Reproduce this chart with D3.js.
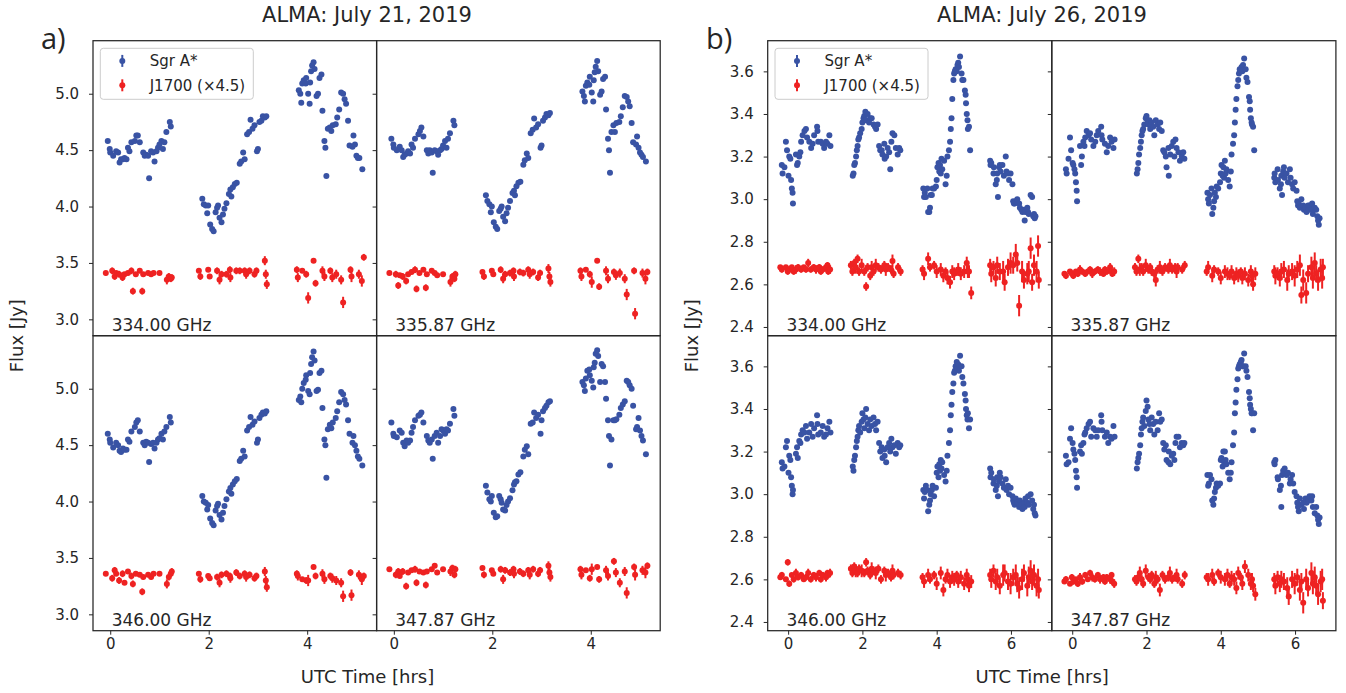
<!DOCTYPE html>
<html>
<head>
<meta charset="utf-8">
<script src="https://cdn.jsdelivr.net/npm/d3@7"></script>
<style>
  body { margin: 0; background: #fff; }
  svg text { font-family: "DejaVu Sans", sans-serif; fill: #262626; }
</style>
</head>
<body>
<svg id="chart" width="1346" height="693"></svg>
<script>
// ---------- July 21, 2019 ----------
const t21Sgr = [
  -0.05,-0.01,0.00,0.06,0.12,0.16,0.19,0.22,0.26,0.29,0.33,0.36,0.39,0.43,0.50,0.53,0.56,0.60,0.67,0.70,0.73,0.77,0.79,0.83,0.87,0.90,0.94,0.97,1.00,1.04,1.07,1.10,1.14,1.21,1.23,
  1.87,1.90,1.94,1.97,1.99,2.03,2.07,2.10,2.14,2.17,2.19,2.22,2.26,2.29,2.32,2.36,2.41,2.44,2.46,2.49,2.53,2.57,2.63,2.66,2.70,2.73,2.78,2.82,2.85,2.89,2.93,2.98,3.00,3.03,3.07,3.10,3.14,3.17,
  3.83,3.86,3.88,3.90,3.93,3.97,3.98,4.02,4.05,4.06,4.08,4.10,4.13,4.15,4.19,4.22,4.25,4.29,4.31,4.35,4.37,4.39,4.42,4.46,4.49,4.52,4.58,4.61,4.65,4.69,4.73,4.76,4.79,4.83,4.86,4.92,4.94,4.97,5.00,5.03,5.06,5.12
];
const sgr21_334 = [
  4.58,4.51,4.48,4.45,4.49,4.48,4.39,4.42,4.42,4.43,4.42,4.52,4.49,4.57,4.58,4.63,4.63,4.57,4.48,4.45,4.46,4.45,4.25,4.49,4.48,4.40,4.49,4.52,4.55,4.58,4.51,4.57,4.66,4.75,4.71,
  4.07,4.02,4.01,3.94,4.01,3.84,3.80,3.78,3.95,3.99,4.01,3.90,3.86,3.93,3.98,4.03,4.11,4.15,4.09,4.17,4.20,4.21,4.38,4.40,4.48,4.42,4.64,4.66,4.77,4.69,4.72,4.49,4.51,4.75,4.76,4.80,4.79,4.80,
  5.03,5.00,4.92,5.09,5.12,5.09,5.14,5.00,4.91,5.10,5.20,5.25,5.28,5.22,4.98,5.00,5.14,5.17,4.85,4.58,4.52,4.27,4.69,4.70,4.67,4.72,4.73,4.79,4.86,5.01,5.00,4.95,4.91,4.76,4.54,4.53,4.63,4.55,4.45,4.43,4.43,4.33
];
const sgr21_335 = [
  4.60,4.55,4.52,4.50,4.53,4.50,4.44,4.46,4.47,4.49,4.47,4.55,4.52,4.60,4.64,4.67,4.70,4.62,4.50,4.47,4.50,4.48,4.30,4.50,4.49,4.46,4.50,4.51,4.54,4.58,4.52,4.60,4.65,4.76,4.72,
  4.10,4.05,4.02,3.95,4.00,3.86,3.82,3.80,3.96,3.98,4.00,3.91,3.87,3.94,3.99,4.05,4.12,4.14,4.10,4.18,4.21,4.22,4.37,4.41,4.47,4.43,4.65,4.68,4.78,4.70,4.73,4.52,4.54,4.76,4.79,4.82,4.81,4.83,
  5.02,4.98,4.93,5.07,5.10,5.08,5.15,5.01,4.93,5.12,5.19,5.24,5.29,5.20,4.99,5.02,5.13,5.15,4.86,4.60,4.50,4.30,4.66,4.72,4.66,4.74,4.75,4.80,4.88,4.98,4.97,4.93,4.89,4.74,4.57,4.55,4.62,4.52,4.48,4.46,4.44,4.40
];
const sgr21_346 = [
  4.60,4.55,4.52,4.48,4.52,4.50,4.45,4.44,4.47,4.46,4.46,4.55,4.53,4.62,4.66,4.70,4.72,4.62,4.52,4.50,4.53,4.52,4.35,4.51,4.52,4.47,4.52,4.55,4.56,4.60,4.55,4.62,4.66,4.75,4.70,
  4.05,4.00,3.99,3.93,3.97,3.85,3.81,3.79,3.92,3.96,3.98,3.88,3.84,3.90,3.96,4.02,4.09,4.12,4.07,4.15,4.18,4.20,4.36,4.38,4.45,4.40,4.63,4.66,4.75,4.68,4.71,4.52,4.55,4.74,4.77,4.79,4.78,4.80,
  4.90,4.93,4.88,5.00,5.05,5.08,5.12,4.98,4.95,5.14,5.22,5.28,5.33,5.25,4.98,4.99,5.14,5.16,4.83,4.55,4.50,4.21,4.64,4.68,4.65,4.70,4.74,4.80,4.88,4.97,4.95,4.90,4.86,4.72,4.60,4.52,4.58,4.50,4.45,4.40,4.38,4.32
];
const sgr21_347 = [
  4.70,4.60,4.58,4.57,4.63,4.61,4.52,4.49,4.54,4.52,4.54,4.61,4.66,4.72,4.76,4.77,4.79,4.70,4.58,4.54,4.52,4.55,4.38,4.58,4.61,4.52,4.58,4.64,4.63,4.60,4.64,4.63,4.69,4.82,4.76,
  4.14,4.08,4.02,4.00,4.05,3.90,3.86,3.87,4.05,4.02,3.99,3.93,3.92,3.97,4.00,4.03,4.10,4.15,4.17,4.18,4.24,4.26,4.40,4.46,4.49,4.42,4.69,4.70,4.79,4.74,4.77,4.60,4.72,4.80,4.83,4.85,4.88,4.89,
  5.06,5.03,4.98,5.09,5.16,5.17,5.12,5.07,5.01,5.19,5.23,5.31,5.34,5.29,5.06,5.22,5.20,5.06,4.91,4.72,4.58,4.32,4.55,4.72,4.72,4.73,4.77,4.83,4.86,4.89,5.07,5.06,5.03,5.00,4.85,4.64,4.66,4.74,4.63,4.58,4.54,4.42
];
const t21J = [
  -0.09,0.04,0.09,0.12,0.18,0.25,0.29,0.36,0.43,0.46,0.52,0.60,0.65,0.67,0.77,0.83,0.88,1.00,1.15,1.19,1.23,1.25,
  1.80,1.83,1.99,2.02,2.17,2.22,2.26,2.36,2.43,2.44,2.56,2.63,2.73,2.76,2.83,2.93,2.97,3.14,3.16,3.18,
  3.79,3.81,3.90,3.98,4.02,4.13,4.17,4.31,4.35,4.47,4.51,4.59,4.69,4.73,4.88,4.90,5.05,5.11,5.15
];
const j21_334 = [
  3.41,3.43,3.38,3.41,3.40,3.37,3.40,3.41,3.43,3.25,3.40,3.43,3.25,3.40,3.41,3.40,3.41,3.41,3.35,3.38,3.36,3.37,
  3.43,3.38,3.44,3.38,3.43,3.35,3.40,3.40,3.44,3.37,3.43,3.43,3.43,3.40,3.43,3.40,3.43,3.52,3.40,3.31,
  3.44,3.37,3.43,3.40,3.19,3.52,3.32,3.43,3.38,3.43,3.37,3.40,3.35,3.15,3.44,3.38,3.40,3.34,3.55
];
const j21_335 = [
  3.41,3.40,3.30,3.39,3.38,3.34,3.40,3.42,3.44,3.27,3.41,3.44,3.28,3.40,3.43,3.41,3.39,3.40,3.33,3.38,3.36,3.40,
  3.42,3.38,3.43,3.40,3.44,3.36,3.40,3.41,3.43,3.38,3.42,3.41,3.44,3.40,3.42,3.37,3.41,3.45,3.38,3.33,
  3.43,3.38,3.44,3.40,3.33,3.52,3.29,3.43,3.36,3.42,3.39,3.41,3.36,3.22,3.43,3.05,3.41,3.36,3.42
];
const j21_346 = [
  3.36,3.32,3.39,3.36,3.30,3.36,3.28,3.38,3.34,3.27,3.36,3.35,3.20,3.33,3.35,3.33,3.36,3.36,3.27,3.33,3.36,3.38,
  3.36,3.31,3.34,3.32,3.33,3.28,3.35,3.36,3.34,3.32,3.37,3.34,3.36,3.33,3.35,3.32,3.34,3.38,3.30,3.24,
  3.36,3.34,3.31,3.30,3.30,3.42,3.34,3.36,3.31,3.34,3.32,3.30,3.28,3.16,3.37,3.17,3.35,3.31,3.34
];
const j21_347 = [
  3.40,3.35,3.38,3.34,3.38,3.25,3.37,3.39,3.40,3.28,3.38,3.37,3.26,3.38,3.40,3.43,3.37,3.40,3.38,3.41,3.35,3.40,
  3.41,3.35,3.39,3.36,3.40,3.31,3.39,3.37,3.40,3.36,3.38,3.36,3.39,3.35,3.40,3.36,3.39,3.43,3.37,3.33,
  3.40,3.35,3.39,3.32,3.40,3.42,3.31,3.39,3.34,3.47,3.37,3.28,3.38,3.19,3.42,3.35,3.39,3.37,3.43
];
const err21J = [
  0.02,0.03,0.03,0.02,0.03,0.03,0.02,0.02,0.03,0.03,0.02,0.02,0.03,0.02,0.02,0.02,0.02,0.02,0.04,0.03,0.03,0.03,
  0.02,0.03,0.02,0.02,0.03,0.04,0.03,0.03,0.03,0.04,0.03,0.03,0.03,0.04,0.03,0.03,0.03,0.04,0.04,0.04,
  0.03,0.04,0.02,0.03,0.05,0.02,0.03,0.04,0.04,0.03,0.04,0.04,0.04,0.05,0.03,0.05,0.04,0.05,0.03
];

// ---------- July 26, 2019 ----------
const t26Sgr = [
  -0.17,-0.15,-0.10,-0.06,-0.03,0.01,0.03,0.06,0.08,0.10,0.12,0.13,0.21,0.24,0.26,0.30,0.33,0.35,0.39,0.44,0.48,0.51,0.57,0.62,0.66,0.70,0.78,0.79,0.81,0.88,0.93,0.97,1.02,1.06,1.11,1.14,
  1.74,1.76,1.78,1.80,1.83,1.85,1.87,1.89,1.91,1.94,1.98,2.00,2.03,2.05,2.08,2.10,2.14,2.18,2.21,2.25,2.30,2.34,2.37,2.41,2.45,2.48,2.52,2.54,2.59,2.60,2.64,2.68,2.72,2.75,2.78,2.81,2.86,2.90,2.95,2.99,3.02,
  3.64,3.66,3.68,3.71,3.75,3.77,3.80,3.82,3.84,3.87,3.89,3.93,3.98,4.00,4.02,4.05,4.07,4.09,4.11,4.13,4.15,4.20,4.24,4.27,4.29,4.33,4.36,4.38,4.40,4.42,4.45,4.47,4.49,4.51,4.54,4.56,4.58,4.60,4.63,4.67,4.69,4.72,4.76,4.78,4.79,4.81,4.83,4.84,4.87,4.90,
  5.44,5.45,5.47,5.53,5.54,5.59,5.62,5.63,5.65,5.68,5.70,5.72,5.77,5.81,5.86,5.88,5.92,5.95,5.99,6.04,6.06,6.08,6.10,6.13,6.17,6.22,6.24,6.28,6.31,6.35,6.37,6.39,6.44,6.46,6.48,6.53,6.57,6.60,6.62,6.64,6.66
];
const sgr26_334 = [
  3.16,3.12,3.15,3.27,3.23,3.11,3.20,3.19,3.09,3.05,3.03,2.98,3.21,3.16,3.17,3.20,3.22,3.27,3.30,3.32,3.33,3.29,3.27,3.24,3.26,3.30,3.34,3.32,3.27,3.27,3.26,3.24,3.27,3.26,3.30,3.25,
  3.11,3.12,3.16,3.17,3.20,3.23,3.25,3.28,3.29,3.31,3.33,3.36,3.38,3.39,3.41,3.37,3.40,3.36,3.38,3.38,3.35,3.34,3.33,3.35,3.25,3.23,3.23,3.21,3.26,3.19,3.20,3.24,3.22,3.14,3.27,3.31,3.30,3.24,3.21,3.24,3.23,
  3.05,3.01,3.03,3.01,3.05,2.94,2.94,2.96,3.02,3.02,3.05,3.05,3.06,3.09,3.15,3.17,3.13,3.16,3.12,3.19,3.14,3.18,3.07,3.11,3.20,3.23,3.27,3.33,3.38,3.47,3.56,3.59,3.60,3.61,3.60,3.63,3.64,3.62,3.67,3.59,3.56,3.56,3.51,3.49,3.45,3.40,3.37,3.33,3.34,3.23,
  3.18,3.16,3.17,3.12,3.15,3.07,3.09,3.12,3.01,3.15,3.16,3.13,3.16,3.11,3.20,3.13,3.12,3.09,3.12,3.07,2.99,2.98,2.98,2.99,3.00,2.98,2.96,2.95,2.94,2.95,2.90,2.94,2.96,2.94,2.93,3.02,3.01,2.92,2.93,2.91,2.92
];
const sgr26_335 = [
  3.14,3.12,3.19,3.29,3.23,3.17,3.16,3.14,3.12,3.08,3.04,2.99,3.25,3.16,3.20,3.27,3.25,3.29,3.32,3.30,3.31,3.28,3.25,3.27,3.30,3.32,3.34,3.30,3.28,3.26,3.22,3.25,3.29,3.27,3.24,3.28,
  3.12,3.14,3.17,3.21,3.24,3.27,3.30,3.32,3.33,3.35,3.38,3.39,3.36,3.35,3.37,3.33,3.36,3.34,3.30,3.37,3.35,3.33,3.36,3.32,3.23,3.22,3.20,3.15,3.24,3.11,3.21,3.25,3.27,3.20,3.28,3.24,3.22,3.18,3.20,3.22,3.19,
  3.03,3.00,2.98,3.02,3.05,2.93,2.96,2.99,3.03,3.01,3.06,3.05,3.08,3.12,3.16,3.11,3.15,3.10,3.18,3.12,3.14,3.09,3.06,3.13,3.21,3.26,3.30,3.36,3.42,3.47,3.53,3.56,3.59,3.61,3.60,3.62,3.60,3.63,3.66,3.61,3.57,3.55,3.48,3.46,3.42,3.38,3.36,3.35,3.34,3.23,
  3.10,3.12,3.08,3.14,3.09,3.05,3.07,3.11,3.02,3.13,3.15,3.10,3.12,3.08,3.14,3.10,3.07,3.05,3.08,3.04,2.99,2.97,2.98,2.96,3.00,2.97,2.95,2.96,2.94,2.97,2.95,2.97,2.95,2.98,2.93,2.96,2.95,2.92,2.90,2.88,2.91
];
const sgr26_346 = [
  3.15,3.12,3.13,3.22,3.25,3.10,3.18,3.16,3.08,3.04,3.00,3.02,3.19,3.22,3.17,3.25,3.24,3.28,3.30,3.29,3.32,3.26,3.29,3.33,3.27,3.31,3.37,3.33,3.28,3.29,3.32,3.27,3.28,3.31,3.34,3.29,
  3.13,3.11,3.16,3.18,3.22,3.25,3.27,3.30,3.32,3.29,3.34,3.38,3.35,3.31,3.36,3.40,3.33,3.30,3.35,3.32,3.36,3.33,3.30,3.34,3.24,3.20,3.22,3.17,3.21,3.18,3.15,3.22,3.24,3.20,3.26,3.22,3.23,3.19,3.24,3.22,3.23,
  3.02,2.98,3.01,3.04,3.02,2.92,2.95,2.97,3.00,3.02,3.04,2.99,3.03,3.10,3.13,3.08,3.14,3.11,3.16,3.12,3.15,3.09,3.06,3.11,3.18,3.24,3.30,3.37,3.42,3.48,3.52,3.57,3.58,3.60,3.62,3.59,3.61,3.58,3.65,3.60,3.55,3.52,3.47,3.44,3.40,3.37,3.35,3.38,3.31,3.35,
  3.12,3.08,3.10,3.05,3.07,3.02,3.04,3.08,2.99,3.06,3.10,3.08,3.05,3.03,3.07,3.02,3.04,3.00,3.03,2.99,2.97,2.96,2.95,2.98,2.96,2.94,2.97,2.95,2.93,2.96,2.94,2.98,2.96,2.99,2.95,3.00,2.97,2.93,2.95,2.91,2.90
];
const sgr26_347 = [
  3.18,3.14,3.15,3.26,3.31,3.24,3.21,3.19,3.16,3.11,3.08,3.03,3.20,3.23,3.19,3.24,3.28,3.29,3.31,3.33,3.34,3.27,3.31,3.30,3.27,3.30,3.37,3.34,3.30,3.27,3.29,3.24,3.27,3.26,3.32,3.27,
  3.12,3.15,3.17,3.19,3.23,3.28,3.31,3.34,3.36,3.32,3.39,3.44,3.41,3.35,3.33,3.30,3.36,3.33,3.28,3.34,3.30,3.38,3.34,3.35,3.24,3.21,3.23,3.16,3.15,3.20,3.14,3.18,3.19,3.16,3.24,3.27,3.27,3.22,3.24,3.23,3.24,
  3.09,3.04,3.05,3.09,3.07,2.97,2.95,2.98,3.01,3.03,3.05,3.04,3.05,3.16,3.17,3.13,3.20,3.15,3.20,3.16,3.14,3.10,3.07,3.10,3.15,3.23,3.29,3.38,3.43,3.49,3.54,3.59,3.60,3.61,3.62,3.63,3.60,3.60,3.66,3.60,3.58,3.55,3.48,3.45,3.42,3.40,3.38,3.38,3.30,3.38,
  3.15,3.14,3.16,3.08,3.07,3.02,3.04,2.94,3.09,3.11,3.10,3.12,3.09,3.10,3.05,3.07,3.09,3.05,3.01,2.99,2.96,2.94,2.92,2.98,2.95,2.96,2.93,2.98,2.96,2.98,2.97,2.99,2.97,2.99,2.94,2.91,2.94,2.90,2.88,2.86,2.89
];
const t26J = [
  -0.21,-0.17,-0.06,-0.01,0.03,0.10,0.15,0.21,0.27,0.35,0.42,0.48,0.54,0.61,0.69,0.75,0.84,0.88,0.93,1.02,1.06,1.08,1.13,
  1.69,1.73,1.78,1.82,1.87,1.91,1.98,2.05,2.10,2.14,2.21,2.25,2.30,2.36,2.43,2.50,2.59,2.63,2.69,2.77,2.81,2.84,2.96,3.03,
  3.62,3.66,3.77,3.82,3.93,4.00,4.11,4.18,4.24,4.29,4.36,4.42,4.47,4.54,4.58,4.65,4.74,4.81,4.84,4.87,4.93,
  5.44,5.47,5.53,5.59,5.63,5.70,5.79,5.83,5.92,5.99,6.06,6.13,6.17,6.22,6.30,6.35,6.44,6.48,6.53,6.57,6.62,6.69,6.73,6.75
];
const j26_334 = [
  2.68,2.67,2.68,2.66,2.67,2.68,2.66,2.67,2.68,2.67,2.68,2.67,2.70,2.67,2.68,2.67,2.68,2.66,2.67,2.68,2.69,2.66,2.67,
  2.69,2.66,2.70,2.68,2.72,2.66,2.69,2.66,2.59,2.68,2.64,2.68,2.66,2.69,2.68,2.67,2.69,2.67,2.68,2.67,2.71,2.65,2.68,2.66,
  2.67,2.65,2.72,2.68,2.69,2.66,2.67,2.64,2.66,2.63,2.61,2.66,2.65,2.66,2.67,2.65,2.66,2.70,2.66,2.66,2.56,
  2.69,2.65,2.68,2.63,2.69,2.66,2.66,2.61,2.68,2.70,2.69,2.74,2.70,2.50,2.66,2.62,2.65,2.66,2.77,2.61,2.69,2.66,2.78,2.62
];
const j26_335 = [
  2.65,2.64,2.66,2.65,2.64,2.66,2.65,2.67,2.66,2.65,2.66,2.67,2.65,2.66,2.67,2.66,2.65,2.67,2.66,2.68,2.66,2.65,2.66,
  2.68,2.66,2.72,2.67,2.68,2.66,2.69,2.67,2.68,2.66,2.65,2.62,2.67,2.68,2.66,2.68,2.67,2.69,2.67,2.68,2.66,2.68,2.67,2.69,
  2.66,2.68,2.64,2.67,2.66,2.63,2.66,2.65,2.64,2.66,2.63,2.65,2.64,2.66,2.63,2.65,2.62,2.66,2.64,2.60,2.65,
  2.66,2.64,2.65,2.63,2.66,2.67,2.62,2.65,2.66,2.64,2.67,2.69,2.55,2.62,2.56,2.65,2.68,2.63,2.70,2.65,2.62,2.67,2.63,2.68
];
const j26_346 = [
  2.61,2.62,2.60,2.68,2.58,2.62,2.60,2.63,2.61,2.62,2.60,2.61,2.63,2.60,2.62,2.61,2.63,2.60,2.62,2.61,2.63,2.62,2.63,
  2.65,2.63,2.66,2.64,2.63,2.65,2.64,2.63,2.68,2.64,2.62,2.65,2.64,2.63,2.65,2.60,2.64,2.62,2.63,2.61,2.64,2.62,2.63,2.62,
  2.61,2.59,2.62,2.60,2.62,2.58,2.63,2.55,2.60,2.62,2.59,2.61,2.60,2.62,2.59,2.61,2.58,2.62,2.60,2.57,2.59,
  2.62,2.60,2.64,2.59,2.61,2.57,2.62,2.63,2.59,2.58,2.61,2.62,2.58,2.56,2.60,2.63,2.57,2.61,2.64,2.59,2.62,2.57,2.60,2.55
];
const j26_347 = [
  2.59,2.60,2.58,2.61,2.59,2.60,2.58,2.61,2.59,2.62,2.60,2.63,2.61,2.60,2.62,2.60,2.61,2.59,2.61,2.60,2.62,2.59,2.58,
  2.60,2.59,2.61,2.63,2.60,2.58,2.64,2.61,2.60,2.62,2.58,2.61,2.60,2.55,2.62,2.60,2.61,2.63,2.60,2.61,2.62,2.60,2.58,2.62,
  2.61,2.60,2.62,2.59,2.63,2.61,2.60,2.62,2.58,2.61,2.60,2.56,2.63,2.61,2.58,2.66,2.62,2.58,2.60,2.57,2.53,
  2.60,2.57,2.61,2.58,2.60,2.59,2.56,2.52,2.60,2.58,2.61,2.55,2.59,2.49,2.60,2.56,2.63,2.58,2.61,2.57,2.53,2.59,2.60,2.50
];
const err26J = [
  0.010,0.015,0.010,0.015,0.015,0.010,0.015,0.020,0.015,0.015,0.010,0.015,0.020,0.015,0.015,0.020,0.015,0.015,0.015,0.020,0.015,0.015,0.020,
  0.02,0.02,0.02,0.03,0.02,0.02,0.03,0.02,0.02,0.02,0.02,0.03,0.02,0.03,0.02,0.02,0.02,0.03,0.02,0.02,0.03,0.02,0.02,0.02,
  0.02,0.03,0.03,0.02,0.02,0.03,0.03,0.03,0.02,0.03,0.03,0.03,0.03,0.02,0.03,0.03,0.03,0.03,0.03,0.03,0.03,
  0.03,0.04,0.03,0.04,0.04,0.04,0.05,0.04,0.04,0.05,0.04,0.05,0.04,0.05,0.05,0.04,0.05,0.05,0.05,0.04,0.05,0.05,0.05,0.04
];

const freqLabels = ["334.00 GHz", "335.87 GHz", "346.00 GHz", "347.87 GHz"];
const xTicks21 = [0, 2, 4];
const xTicks26 = [0, 2, 4, 6];
const yTicks21 = [3.0, 3.5, 4.0, 4.5, 5.0];
const yTicks26 = [2.4, 2.6, 2.8, 3.0, 3.2, 3.4, 3.6];

const blue = "#3953a4";
const red = "#ee2222";
const ink = "#262626";

const svg = d3.select("#chart");

const figures = [
  {
    tag: "a)", title: "ALMA: July 21, 2019",
    left: 93, top: 40.7, w: 283.6, h: 295, tagX: 41, titleX: 367,
    xDomain: [-0.35, 5.41], yDomain: [2.855, 5.47],
    xTicks: xTicks21, yTicks: yTicks21,
    tSgr: t21Sgr, tJ: t21J, errJ: err21J,
    sgr: [sgr21_334, sgr21_335, sgr21_346, sgr21_347],
    j: [j21_334, j21_335, j21_346, j21_347]
  },
  {
    tag: "b)", title: "ALMA: July 26, 2019",
    left: 767.7, top: 40.7, w: 284.1, h: 295, tagX: 706, titleX: 1042,
    xDomain: [-0.55, 7.1], yDomain: [2.359, 3.744],
    xTicks: xTicks26, yTicks: yTicks26,
    tSgr: t26Sgr, tJ: t26J, errJ: err26J,
    sgr: [sgr26_334, sgr26_335, sgr26_346, sgr26_347],
    j: [j26_334, j26_335, j26_346, j26_347]
  }
];

figures.forEach(function(fig) {
  const x = d3.scaleLinear().domain(fig.xDomain).range([0, fig.w]);
  const y = d3.scaleLinear().domain(fig.yDomain).range([fig.h, 0]);

  const panels = [0, 1, 2, 3].map(function(i) {
    const col = i % 2, row = Math.floor(i / 2);
    const g = svg.append("g")
      .attr("transform", `translate(${fig.left + col * fig.w},${fig.top + row * fig.h})`);
    return { g, col, row, i };
  });

  // marks
  panels.forEach(function(p) {
    const sgrData = fig.tSgr.map((t, k) => ({ t, f: fig.sgr[p.i][k] })).filter(d => d.f != null);
    const jData = fig.tJ.map((t, k) => ({ t, f: fig.j[p.i][k], e: fig.errJ[k] })).filter(d => d.f != null);

    p.g.append("g").selectAll("circle")
      .data(sgrData)
      .join("circle")
      .attr("cx", d => x(d.t))
      .attr("cy", d => y(d.f))
      .attr("r", 3)
      .attr("fill", blue);

    p.g.append("g").selectAll("line")
      .data(jData)
      .join("line")
      .attr("x1", d => x(d.t)).attr("x2", d => x(d.t))
      .attr("y1", d => y(d.f - d.e)).attr("y2", d => y(d.f + d.e))
      .attr("stroke", red)
      .attr("stroke-width", 2);

    p.g.append("g").selectAll("circle")
      .data(jData)
      .join("circle")
      .attr("cx", d => x(d.t))
      .attr("cy", d => y(d.f))
      .attr("r", 3)
      .attr("fill", red);
  });

  // frames, ticks, labels
  panels.forEach(function(p) {
    const yAxis = d3.axisLeft(y).tickValues(fig.yTicks).tickSize(4).tickPadding(10)
      .tickFormat(p.col === 0 ? d3.format(".1f") : () => "");
    const ya = p.g.append("g").call(yAxis);
    ya.select(".domain").remove();
    ya.selectAll(".tick line").attr("stroke", ink).attr("stroke-width", 1);
    ya.selectAll("text").style("font-size", "15px").attr("fill", ink);

    if (p.row === 1) {
      const xAxis = d3.axisBottom(x).tickValues(fig.xTicks).tickSize(4).tickPadding(4)
        .tickFormat(d3.format("d"));
      const xa = p.g.append("g").attr("transform", `translate(0,${fig.h})`).call(xAxis);
      xa.select(".domain").remove();
      xa.selectAll(".tick line").attr("stroke", ink).attr("stroke-width", 1);
      xa.selectAll("text").style("font-size", "15px").attr("fill", ink);
    }

    p.g.append("rect")
      .attr("width", fig.w).attr("height", fig.h)
      .attr("fill", "none")
      .attr("stroke", ink)
      .attr("stroke-width", 1.25);

    p.g.append("text")
      .attr("x", 18.7)
      .attr("y", fig.h - 4.5)
      .style("font-size", "17px")
      .text(freqLabels[p.i]);
  });

  // legend in first panel
  const lg = panels[0].g.append("g").attr("transform", "translate(7.3,7.6)");
  lg.append("rect")
    .attr("width", 153).attr("height", 51).attr("rx", 3)
    .attr("fill", "#fff").attr("fill-opacity", 0.8)
    .attr("stroke", "#cccccc").attr("stroke-width", 1);
  [["Sgr A*", blue, 12.6], ["J1700 (\u00d74.5)", red, 37]].forEach(function(item) {
    lg.append("line")
      .attr("x1", 22).attr("x2", 22)
      .attr("y1", item[2] - 6).attr("y2", item[2] + 6)
      .attr("stroke", item[1]).attr("stroke-width", 2);
    lg.append("circle").attr("cx", 22).attr("cy", item[2]).attr("r", 3).attr("fill", item[1]);
    lg.append("text")
      .attr("x", 49.4).attr("y", item[2] + 5.3)
      .style("font-size", "15px")
      .text(item[0]);
  });

  // figure texts
  svg.append("text")
    .attr("x", fig.titleX).attr("y", 22)
    .attr("text-anchor", "middle")
    .style("font-size", "21px")
    .text(fig.title);

  svg.append("text")
    .attr("x", fig.tagX).attr("y", 49)
    .style("font-family", "'Open Sans', sans-serif")
    .style("font-size", "29px")
    .text(fig.tag);

  svg.append("text")
    .attr("x", fig.left + 274.5).attr("y", 683)
    .attr("text-anchor", "middle")
    .style("font-size", "18px")
    .text("UTC Time [hrs]");

  svg.append("text")
    .attr("transform", `translate(${fig.left - 70},${fig.top + fig.h})rotate(-90)`)
    .attr("text-anchor", "middle")
    .style("font-size", "18px")
    .text("Flux [Jy]");
});
</script>
</body>
</html>
